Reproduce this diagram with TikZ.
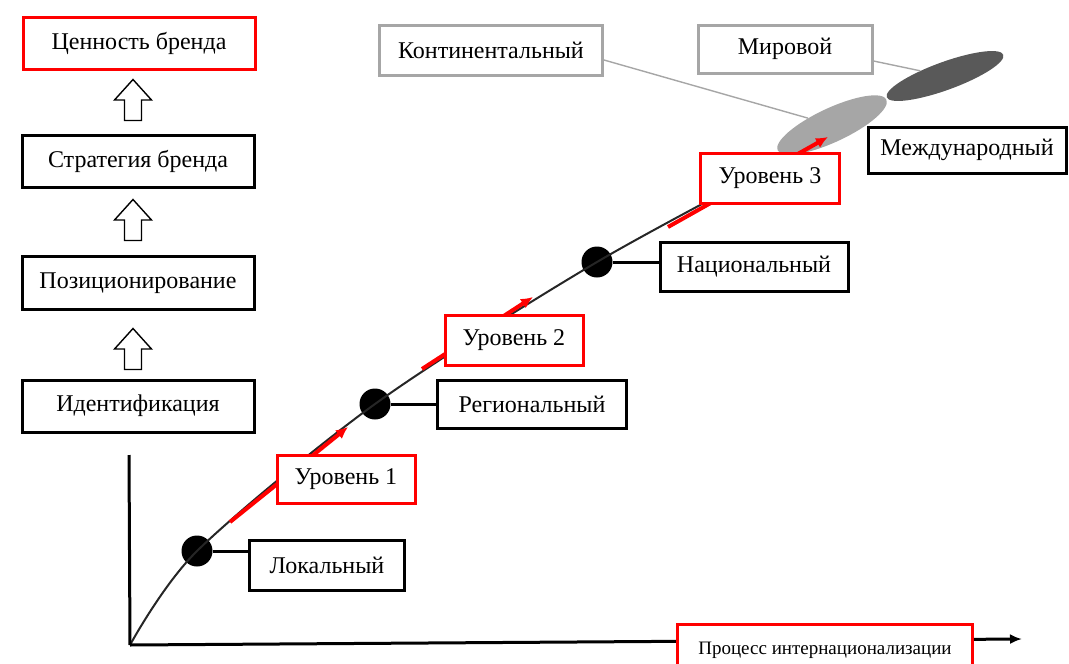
\documentclass[tikz,border=0pt]{standalone}
\usepackage{fontspec}
\setmainfont{Liberation Serif}
\usetikzlibrary{shapes.geometric,arrows.meta,calc}
\definecolor{cinzaclaro}{HTML}{A6A6A6}
\definecolor{cinzaescuro}{HTML}{595959}

\begin{document}
\begin{tikzpicture}[x=1pt,y=-1pt,
    caixa/.style={draw=black,line width=3pt,fill=white,inner sep=0pt,font=\fontsize{24}{28}\selectfont},
    caixavermelha/.style={caixa,draw=red},
    caixacinza/.style={caixa,draw=cinzaclaro},
    ponto/.style={circle,fill=black,minimum size=31pt,inner sep=0pt},
    setabloco/.pic={\draw[line width=1.4pt,fill=white] (0,-20.5) -- (18.5,0) -- (8.5,0) -- (8.5,20.5)
        -- (-8.5,20.5) -- (-8.5,0) -- (-18.5,0) -- cycle;},
    nivel/.style={-{Latex[length=12pt,width=11pt]},red,line width=4pt},
    ligacao/.style={line width=3pt},
    eixo/.style={line width=3pt}]
    \useasboundingbox (0,0) rectangle (1069,664);
    % Pontos da curva
    \coordinate (O) at (130,645);
    \coordinate (T) at (129,455);
    \coordinate (X) at (1022,639);
    \coordinate (F) at (812,146);
    \node[ponto] (P1) at (197,551) {};
    \node[ponto] (P2) at (375,404) {};
    \node[ponto] (P3) at (597,262) {};
    % Elipses
    \node[ellipse,fill=cinzaclaro,minimum width=120pt,minimum height=34pt,inner sep=0pt,rotate=25] (E1) at (832,125) {};
    \node[ellipse,fill=cinzaescuro,minimum width=124pt,minimum height=28pt,inner sep=0pt,rotate=20] (E2) at (945,76) {};
    % Curva e eixos
    \draw[line width=2pt,black!85] plot[smooth,tension=0.5] coordinates {(O) (P1.center) (P2.center) (P3.center) (F)};
    \draw[eixo] (T) -- (O);
    \draw[eixo,-{Latex[length=12pt,width=10pt]}] (O) -- (X);
    % Setas vermelhas
    \coordinate (A1) at (230,522);
    \coordinate (B1) at (348,427);
    \coordinate (A2) at (422,369);
    \coordinate (B2) at (533,297);
    \coordinate (A3) at (668,227);
    \coordinate (B3) at (828,137);
    \draw[nivel] (A1) -- (B1);
    \draw[nivel] (A2) -- (B2);
    \draw[nivel] (A3) -- (B3);
    % Caixas da esquerda
    \node[caixavermelha,minimum width=232pt,minimum height=52pt] (V) at (139,43) {Ценность бренда};
    \node[caixa,minimum width=232pt,minimum height=52pt] (S) at (138,161) {Стратегия бренда};
    \node[caixa,minimum width=232pt,minimum height=53pt] (Q) at (138,283) {Позиционирование};
    \node[caixa,minimum width=232pt,minimum height=52pt] (I) at (138,406) {Идентификация};
    \pic at (133,100) {setabloco};
    \pic at (133,220) {setabloco};
    \pic at (133,349) {setabloco};
    % Niveis
    \node[caixavermelha,minimum width=138pt,minimum height=48pt] (N1) at (346,479) {Уровень 1};
    \node[caixavermelha,minimum width=138pt,minimum height=50pt] (N2) at (514,340) {Уровень 2};
    \node[caixavermelha,minimum width=139pt,minimum height=50pt] (N3) at (770,178) {Уровень 3};
    % Mercados
    \node[caixa,minimum width=155pt,minimum height=50pt] (L) at (327,565) {Локальный};
    \node[caixa,minimum width=189pt,minimum height=48pt] (R) at (532,404) {Региональный};
    \node[caixa,minimum width=188pt,minimum height=49pt] (N) at (754,267) {Национальный};
    \node[caixa,minimum width=198pt,minimum height=46pt] (M) at (967,150) {Международный};
    \node[caixacinza,minimum width=223pt,minimum height=50pt] (C) at (491,50) {Континентальный};
    \node[caixacinza,minimum width=174pt,minimum height=48pt] (W) at (785,49) {Мировой};
    \node[caixavermelha,minimum width=295pt,minimum height=60pt,font=\fontsize{19}{22}\selectfont,anchor=north] (PI) at (825,623) {\raisebox{12pt}{Процесс интернационализации}};
    % Ligacoes
    \draw[ligacao] (P1) -- (P1 -| L.west);
    \draw[ligacao] (P2) -- (R.west);
    \draw[ligacao] (P3) -- (P3 -| N.west);
    \draw[cinzaclaro,line width=1.4pt] ($(C.east)+(0,10)$) -- (E1);
    \draw[cinzaclaro,line width=1.4pt] ($(W.east)+(0,12)$) -- (E2);
\end{tikzpicture}
\end{document}
